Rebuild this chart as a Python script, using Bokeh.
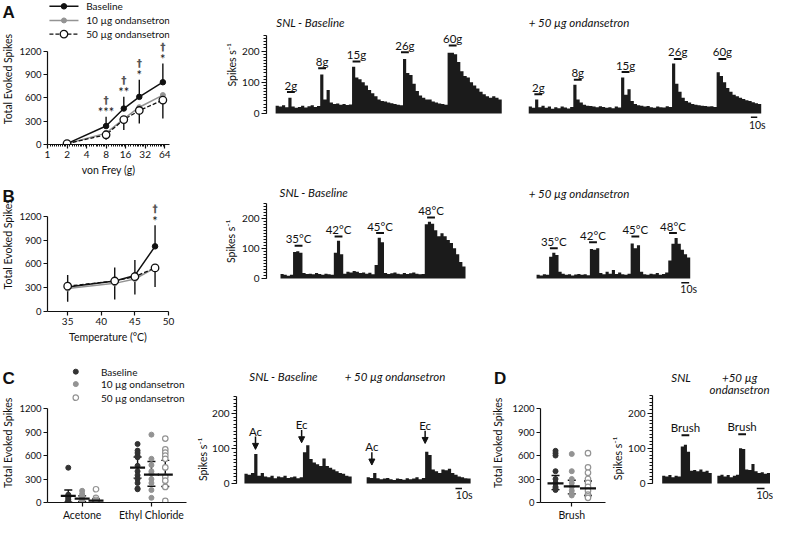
import math
from bokeh.plotting import figure
from bokeh.layouts import row, column
from bokeh.models import (Range1d, FixedTicker, Arrow, NormalHead, Whisker, TeeHead,
                          ColumnDataSource, NumeralTickFormatter)
from bokeh.core.properties import value
from bokeh.embed import file_html
from bokeh.resources import INLINE

FONT = "Lato"
INK = "#111111"
GREY = "#939393"
DOT = "#333333"
SX = 773 / 789
SY = 523 / 539

# ---------------- A: von Frey ----------------
vf_force = [2, 8, 15, 26, 60]
vf_base = [12, 237, 462, 612, 800]
vf_base_sem = [6, 120, 150, 221, 241]
vf_10 = [10, 146, 330, 479, 635]
vf_50 = [12, 125, 320, 437, 571]
vf_50_sem = [6, 63, 133, 166, 238]
vf_star = ["", "***", "**", "*", "*"]
vf_dagger = ["", "†", "†", "†", "†"]
vf_ticks = [1, 2, 4, 8, 16, 32, 64]

# ---------------- B: heat ----------------
temp = [35, 42, 45, 48]
heat_base = [310, 385, 455, 822]
heat_base_sem = [150, 170, 195, 265]
heat_10 = [290, 355, 410, 550]
heat_50 = [320, 385, 440, 550]
heat_50_sem = [197, 233, 227, 242]
heat_star = ["", "", "", "*"]
heat_dagger = ["", "", "", "†"]
temp_ticks = [35, 40, 45, 50]

# ---------------- C: cold (points per animal) ----------------
cold_cats = ["Acetone", "Ethyl Chloride"]
groups = ["Baseline", "10 µg ondansetron", "50 µg ondansetron"]
ac_base = [446, 100, 80, 60, 40, 20, 10, 5, 0, 0]
ac_10 = [150, 110, 80, 55, 40, 20, 10, 0]
ac_50 = [170, 60, 35, 20, 10, 5, 0]
ec_base = [750, 665, 635, 600, 580, 470, 400, 350, 300, 250, 180, 170]
ec_10 = [870, 560, 480, 400, 370, 300, 250, 160, 60]
ec_50 = [820, 680, 640, 600, 560, 450, 330, 280, 200, 20]
ac_mean = [84, 50, 25]
ac_lo = [5, 15, 5]
ac_hi = [160, 85, 45]
ec_mean = [446, 358, 358]
ec_lo = [312, 209, 205]
ec_hi = [584, 525, 540]

# ---------------- D: brush ----------------
br_base = [660, 630, 600, 400, 300, 250, 200, 180, 160]
br_10 = [620, 400, 300, 250, 200, 150, 110, 90]
br_50 = [630, 450, 380, 300, 250, 200, 150, 100, 80, 60]
br_mean = [245, 205, 180]
br_lo = [165, 110, 90]
br_hi = [345, 285, 275]

# ---------------- traces (spikes/s per bin) ----------------
A_bin = 5
A_snl = [25, 22, 26, 20, 50, 22, 18, 21, 25, 19, 23, 26, 21, 24,
         125, 45, 75, 35, 30, 32, 28, 30, 27, 29,
         150, 115, 110, 100, 90, 75, 65, 55, 45, 40, 38, 35, 33, 30, 28, 26,
         175, 130, 123, 95, 72, 58, 50, 45, 45, 38, 35, 32, 30, 28,
         195, 195, 190, 165, 135, 120, 115, 100, 90, 80, 70, 62, 55, 50, 55, 50, 45]
A_ond = [22, 18, 45, 20, 25, 18, 22, 15, 20, 17, 22, 19, 16, 21,
         92, 45, 35, 28, 25, 24, 22, 20, 23, 21, 18, 20, 17, 22, 19,
         115, 60, 78, 40, 30, 26, 25, 22, 24, 20, 18, 22, 20, 19, 23, 21,
         160, 95, 70, 50, 40, 35, 30, 28, 26, 25, 24, 22, 23, 21,
         132, 120, 100, 82, 70, 60, 55, 50, 46, 42, 40, 36, 33, 30]
A_lab = ["2g", "8g", "15g", "26g", "60g"]
A_snl_t = [24, 73, 127, 203, 278]
A_snl_lvl = [69, 145, 167, 196, 218]
A_ond_t = [15, 77, 152, 234, 304]
A_ond_lvl = [62, 108, 133, 175, 175]

B_bin = 4
B_snl = [15, 12, 9, 12,
         88, 90, 85,
         18, 15, 16, 14, 18, 15, 12, 16, 14, 12,
         85, 125, 80,
         16, 22, 20, 25, 22, 18, 20, 16, 19, 14,
         45, 135, 120,
         18, 15, 17, 20, 16, 14, 18, 15, 17, 20, 16, 14, 15,
         180, 188, 182, 160, 140, 150, 140, 128, 118, 100, 80, 55, 40]
B_ond = [12, 10, 14, 12,
         72, 85, 78,
         22, 16, 12, 14, 10, 13, 15, 12, 14, 11,
         98, 95, 100,
         18, 14, 22, 16, 28, 15, 20, 14, 12, 16,
         116, 100, 110,
         22, 14, 12, 16, 14, 18, 12, 15, 20,
         60, 115, 134, 115, 95, 80, 70]
B_lab = ["35°C", "42°C", "45°C", "48°C"]
B_snl_t = [23, 74, 127, 192]
B_snl_lvl = [109, 139, 151, 202]
B_ond_t = [22, 72, 126, 174]
B_ond_lvl = [100, 120, 139, 151]

C_bin = 5
C_snl = [28, 25, 30, 85,
         22, 30, 20, 18, 22, 15, 20, 18, 22, 16, 18, 20, 15, 18,
         90, 110, 70, 60, 55, 50, 72, 50, 45, 40, 35, 30, 28, 22, 20]
C_ond = [18, 16, 30,
         15, 12, 14, 16, 12, 10, 14, 13, 11, 15, 12, 14, 18, 12, 16,
         91, 82, 40, 35, 30, 40, 38, 42, 30, 25, 20, 18, 15, 14]
C_lab = ["Ac", "Ec"]
C_snl_t = [17, 88]
C_snl_lvl = [98, 117]
C_ond_t = [8, 90]
C_ond_lvl = [53, 115]

D_bin = 4
D_snl = [22, 20, 24, 18, 22, 20, 105, 110, 90, 36, 38, 35, 40, 33, 36, 30]
D_ond = [22, 25, 20, 24, 18, 22, 25, 100, 98, 40, 38, 55, 35, 30, 32, 28, 30]
D_lab = ["Brush"]
D_snl_t = [30]
D_snl_lvl = [137]
D_ond_t = [32]
D_ond_lvl = [140]

Y_LABEL = "Total Evoked Spikes"
RATE_LABEL = "Spikes s⁻¹"


# ---------------- helpers ----------------
def base_fig(x0, x1, y0, y1, xr, yr, bl=0, br=0, bt=0, bb=0, x_axis=False, y_axis=False,
             x_type="linear"):
    W = round(x1 * SX) - round(x0 * SX)
    H = round(y1 * SY) - round(y0 * SY)
    p = figure(width=W, height=H, x_range=Range1d(*xr), y_range=Range1d(*yr),
               x_axis_type=x_type, x_axis_location=("below" if x_axis else None),
               y_axis_location=("left" if y_axis else None),
               toolbar_location=None, output_backend="svg", title=None,
               min_border_left=bl, min_border_right=br, min_border_top=bt, min_border_bottom=bb)
    p.outline_line_color = None
    p.grid.visible = False
    p.background_fill_color = "white"
    p.border_fill_color = "white"
    return p


def put_text(p, xs, ys, labels, size="11px", style="normal", align="center", baseline="middle",
             angle=0.0, font=FONT, color=INK):
    p.text(x=xs, y=ys, text=labels, text_font=value(font), text_font_size=size,
           text_font_style=style, text_align=align, text_baseline=baseline, angle=angle,
           text_color=color)


def gutter(x0, x1, y0, y1):
    # plain canvas whose data units are the reference pixels (y grows downwards)
    return base_fig(x0, x1, y0, y1, (x0, x1), (y1, y0))


def style_axis(ax, tick_size="10px"):
    ax.axis_line_width = 1.2
    ax.axis_line_color = INK
    ax.major_tick_line_width = 1.2
    ax.major_tick_line_color = INK
    ax.major_tick_out = 4
    ax.major_tick_in = 0
    ax.minor_tick_out = 2
    ax.minor_tick_in = 0
    ax.minor_tick_line_width = 1
    ax.minor_tick_line_color = INK
    ax.major_label_text_font = FONT
    ax.major_label_text_font_size = tick_size
    ax.major_label_text_color = INK
    ax.major_label_standoff = 2
    ax.axis_label_text_font = FONT
    ax.axis_label_text_font_size = "10.5px"
    ax.axis_label_text_font_style = "normal"
    ax.axis_label_text_color = INK
    ax.axis_label_standoff = 3


class CF:
    """Count panel: frame from fl..fr (ref px), zero line at zero_y, 1200 at y1200."""

    def __init__(self, x0, x1, y0, y1, fl, fr, zero_y, y1200, xorg, xpx, xbounds, log=False):
        self.fl, self.xorg, self.xpx, self.log, self.zero_y = fl, xorg, xpx, log, zero_y
        self.pxu = (zero_y - y1200) / 1200
        xr = (self.X(fl), self.X(fr))
        yr = (0, (zero_y - y0) / self.pxu)
        bl = round(fl * SX) - round(x0 * SX)
        br = round(x1 * SX) - round(fr * SX)
        bb = round(y1 * SY) - round(zero_y * SY)
        self.p = base_fig(x0, x1, y0, y1, xr, yr, bl, br, 0, bb, True, True,
                          "log" if log else "linear")
        ya = self.p.yaxis[0]
        ya.ticker = FixedTicker(ticks=[0, 300, 600, 900, 1200], minor_ticks=[])
        ya.bounds = (0, 1200)
        style_axis(ya, "9.5px")
        xa = self.p.xaxis[0]
        style_axis(xa)
        xa.bounds = xbounds

    def X(self, px):
        if self.log:
            return self.xorg * 2 ** ((px - self.fl) / self.xpx)
        return self.xorg + (px - self.fl) / self.xpx

    def Y(self, py):
        return (self.zero_y - py) / self.pxu

    def text_px(self, px, py, s, **kw):
        put_text(self.p, [self.X(px)], [self.Y(py)], [s], **kw)


class TF:
    """Trace panel: y axis at fl, zero line at zero_y, 200 spikes/s at y200."""

    def __init__(self, x0, x1, y0, y1, fl, fr, pxs, zero_y, y200):
        self.fl, self.pxs, self.zero_y = fl, pxs, zero_y
        self.pxu = (zero_y - y200) / 200
        xr = (0, (fr - fl) / pxs)
        yr = ((zero_y - y1) / self.pxu, (zero_y - y0) / self.pxu)
        bl = round(fl * SX) - round(x0 * SX)
        br = round(x1 * SX) - round(fr * SX)
        self.p = base_fig(x0, x1, y0, y1, xr, yr, bl, br, 0, 0, False, True)
        ya = self.p.yaxis[0]
        ya.ticker = FixedTicker(ticks=[0, 100, 200], minor_ticks=list(range(0, 251, 10)))
        ya.bounds = (0, 250)
        style_axis(ya)
        ya.major_tick_out = 5
        ya.minor_tick_out = 3

    def X(self, px):
        return (px - self.fl) / self.pxs

    def Y(self, py):
        return (self.zero_y - py) / self.pxu

    def text_px(self, px, py, s, **kw):
        put_text(self.p, [self.X(px)], [self.Y(py)], [s], **kw)

    def trace(self, start_px, binw, vals):
        t0 = self.X(start_px)
        xs = [t0 + i * binw for i in range(len(vals) + 1)]
        ys = list(vals) + [vals[-1]]
        self.p.varea_step(x=xs, y1=[0] * len(xs), y2=ys, step_mode="after", fill_color="#1b1b1b")
        return t0

    def stim_bars(self, t0, labels, times, levels):
        hb = 4 / self.pxs
        xs = [t0 + t for t in times]
        self.p.segment(x0=[x - hb for x in xs], y0=levels, x1=[x + hb for x in xs], y1=levels,
                       line_width=2, line_color=INK)
        put_text(self.p, xs, [l + 9 / self.pxu for l in levels], labels, size="11.5px")

    def stim_arrows(self, t0, labels, times, levels):
        xs = [t0 + t for t in times]
        for x, l in zip(xs, levels):
            self.p.add_layout(Arrow(x_start=x, y_start=l + 15 / self.pxu, x_end=x, y_end=l,
                                    line_width=1.5, line_color=INK,
                                    end=NormalHead(size=6, fill_color=INK, line_color=INK)))
        put_text(self.p, xs, [l + 21.5 / self.pxu for l in levels], labels, size="11.5px")

    def scale_bar(self, bar_px, bar_py, txt_px, txt_py):
        x0 = self.X(bar_px)
        y = self.Y(bar_py)
        self.p.segment(x0=[x0], y0=[y], x1=[x0 + 10], y1=[y], line_width=1.5, line_color=INK)
        self.text_px(txt_px, txt_py, "10s", size="10.5px")

    def title(self, text, px, py, align="left"):
        self.text_px(px, py, text, style="italic", align=align, size="11.5px")


def gutter_text(g, px, py, s, **kw):
    put_text(g, [px], [py], [s], **kw)


def letter(g, s, px, py_base):
    put_text(g, [px], [py_base], [s], size="17px", style="bold", align="left",
             baseline="alphabetic", font="Liberation Sans")


def line_panel(cf, xs, base, base_sem, m10, m50, m50_sem, stars, daggers):
    p, pxu = cf.p, cf.pxu
    up = [m + s for m, s in zip(base, base_sem)]
    lo = [m - s for m, s in zip(m50, m50_sem)]
    p.segment(x0=xs, y0=base, x1=xs, y1=up, line_width=1.4, line_color=INK)
    p.segment(x0=xs, y0=m50, x1=xs, y1=lo, line_width=1.4, line_color=INK)
    p.line(xs, m10, line_color=GREY, line_width=1.5)
    p.scatter(xs, m10, size=5, fill_color=GREY, line_color=GREY)
    p.line(xs, base, line_color=INK, line_width=1.5)
    p.scatter(xs, base, size=5.5, fill_color=INK, line_color=INK)
    p.line(xs, m50, line_color=INK, line_width=1.3, line_dash="4 2")
    p.scatter(xs, m50, size=7.5, fill_color="white", line_color=INK, line_width=1.3)
    sx = [x for x, s in zip(xs, stars) if s]
    st = [t for t, s in zip(up, stars) if s]
    put_text(p, sx, [t + 4.5 / pxu for t in st], [s for s in stars if s], size="13px")
    put_text(p, sx, [t + 17.5 / pxu for t in st], [d for d in daggers if d], size="10.5px",
             style="bold", font="DejaVu Sans", color="#555555", angle=0.002)


def dot_panel(p, centers, offsets, point_sets, means, los, his, dash_size):
    styles = [dict(fill_color=DOT, line_color=DOT, size=5),
              dict(fill_color=GREY, line_color=GREY, size=5),
              dict(fill_color="white", line_color=GREY, line_width=1.2, size=5.5)]
    for g in range(3):
        xs, ys = [], []
        for c, cx in enumerate(centers):
            pts = point_sets[c][g]
            xs += [cx + offsets[g]] * len(pts)
            ys += list(pts)
        p.scatter(xs, ys, **styles[g])
    mx, my, ml, mh = [], [], [], []
    for c, cx in enumerate(centers):
        for g in range(3):
            mx.append(cx + offsets[g])
            my.append(means[c][g])
            ml.append(los[c][g])
            mh.append(his[c][g])
    src = ColumnDataSource(dict(x=mx, lo=ml, hi=mh))
    p.add_layout(Whisker(base="x", lower="lo", upper="hi", source=src, line_width=1.4,
                         line_color=INK,
                         upper_head=TeeHead(size=8, line_width=1.4, line_color=INK),
                         lower_head=TeeHead(size=8, line_width=1.4, line_color=INK)))
    p.scatter(mx, my, marker="dash", size=dash_size, line_width=2.2, line_color=INK)
    return styles


# ================= Row 1 =================
GA = gutter(0, 16, 0, 187)
letter(GA, "A", 2, 15)
gutter_text(GA, 7.5, 102, Y_LABEL, size="10.5px", angle=math.pi / 2)

A = CF(16, 176, 0, 187, 46, 172, 148, 52, 1, 20.17, (1, 2 ** (126 / 20.17)), log=True)
xa = A.p.xaxis[0]
vf_minor = [m * (1 + k / 10) for m in vf_ticks[:-1] for k in range(1, 10)]
xa.ticker = FixedTicker(ticks=vf_ticks, minor_ticks=vf_minor)
xa.formatter = NumeralTickFormatter(format="0")
xa.axis_label = "von Frey (g)"
line_panel(A, vf_force, vf_base, vf_base_sem, vf_10, vf_50, vf_50_sem, vf_star, vf_dagger)
# legend (drawn in the panel)
leg_rows = [6, 20.5, 34.5]
leg_line = [dict(line_color=INK, line_width=1.5), dict(line_color=GREY, line_width=1.5),
            dict(line_color=INK, line_width=1.3, line_dash="4 2")]
leg_mark = [dict(size=5.5, fill_color=INK, line_color=INK),
            dict(size=5, fill_color=GREY, line_color=GREY),
            dict(size=7.5, fill_color="white", line_color=INK, line_width=1.3)]
for i in range(3):
    yy = A.Y(leg_rows[i])
    A.p.line([A.X(48), A.X(78)], [yy, yy], **leg_line[i])
    A.p.scatter([A.X(63)], [yy], **leg_mark[i])
    A.text_px(86, leg_rows[i], groups[i], size="10px", align="left")

G1 = gutter(176, 243, 0, 187)
gutter_text(G1, 236.7, 83.5, RATE_LABEL, size="10.5px", angle=math.pi / 2)

TA = TF(243, 789, 0, 187, 271.7, 785, 0.65, 146.7, 65.7)
t1 = TA.trace(281, A_bin, A_snl)
t2 = TA.trace(539.3, A_bin, A_ond)
TA.stim_bars(t1, A_lab, A_snl_t, A_snl_lvl)
TA.stim_bars(t2, A_lab, A_ond_t, A_ond_lvl)
TA.title("SNL - Baseline", 281.7, 28)
TA.title("+ 50 µg ondansetron", 539.3, 29)
TA.scale_bar(766, 151.7, 772.5, 161.7)

# ================= Row 2 =================
GB = gutter(0, 16, 187, 363)
letter(GB, "B", 2, 206.7)
gutter_text(GB, 7.5, 272, Y_LABEL, size="10.5px", angle=math.pi / 2)

B = CF(16, 180, 187, 363, 46, 171, 320, 222.7, 32, 125 / 18, (32, 50))
B.p.xaxis[0].ticker = FixedTicker(ticks=temp_ticks, minor_ticks=[])
B.p.xaxis[0].axis_label = "Temperature (°C)"
line_panel(B, temp, heat_base, heat_base_sem, heat_10, heat_50, heat_50_sem,
           heat_star, heat_dagger)

G2 = gutter(180, 243, 187, 363)
gutter_text(G2, 235.7, 268, RATE_LABEL, size="10.5px", angle=math.pi / 2)

TB = TF(243, 789, 187, 363, 271.7, 785, 0.8, 318.3, 236.7)
t1 = TB.trace(286, B_bin, B_snl)
t2 = TB.trace(547.3, B_bin, B_ond)
TB.stim_bars(t1, B_lab, B_snl_t, B_snl_lvl)
TB.stim_bars(t2, B_lab, B_ond_t, B_ond_lvl)
TB.title("SNL - Baseline", 285, 201.7)
TB.title("+ 50 µg ondansetron", 539.3, 202.7)
TB.scale_bar(695, 324, 702.5, 332.7)

# ================= Row 3 =================
GC = gutter(0, 16, 363, 539)
letter(GC, "C", 2, 393.3)
gutter_text(GC, 7.5, 469, Y_LABEL, size="10.5px", angle=math.pi / 2)

C = CF(16, 213, 363, 539, 47, 213, 517.3, 421, 0.5, 71, (0.5, 2.5))
C.p.xaxis[0].ticker = FixedTicker(ticks=[1, 2], minor_ticks=[])
C.p.xaxis[0].major_label_overrides = {1: cold_cats[0], 2: cold_cats[1]}
C.p.xaxis[0].major_label_text_font_size = "10.5px"
cst = dot_panel(C.p, [1, 2], [-0.2, 0, 0.2],
                [[ac_base, ac_10, ac_50], [ec_base, ec_10, ec_50]],
                [ac_mean, ec_mean], [ac_lo, ec_lo], [ac_hi, ec_hi], 15)
leg_rows_c = [382.7, 395.5, 409.5]
for i in range(3):
    C.p.scatter([C.X(76)], [C.Y(leg_rows_c[i])], **cst[i])
    C.text_px(101.7, leg_rows_c[i], groups[i], size="10px", align="left")
C.text_px(206.5, 473, RATE_LABEL, size="10.5px", angle=math.pi / 2)

TC = TF(213, 520, 363, 539, 238.5, 520, 0.67, 516.7, 435)
t1 = TC.trace(246.7, C_bin, C_snl)
t2 = TC.trace(372.7, C_bin, C_ond)
TC.stim_arrows(t1, C_lab, C_snl_t, C_snl_lvl)
TC.stim_arrows(t2, C_lab, C_ond_t, C_ond_lvl)
TC.title("SNL - Baseline", 251.7, 391.7)
TC.title("+ 50 µg ondansetron", 350, 391.7)
TC.scale_bar(464.3, 522.7, 473.3, 530.7)
put_text(TC.p, [TC.X(504)], [TC.Y(393.3)], ["D"], size="17px", style="bold", align="left",
         baseline="alphabetic", font="Liberation Sans")
TC.text_px(508.3, 469, Y_LABEL, size="10.5px", angle=math.pi / 2)

D = CF(520, 638, 363, 539, 549, 638, 517.3, 420.7, 0.615, 85, (0.615, 1.412))
D.p.xaxis[0].ticker = FixedTicker(ticks=[1], minor_ticks=[])
D.p.xaxis[0].major_label_overrides = {1: "Brush"}
D.p.xaxis[0].major_label_text_font_size = "10.5px"
dot_panel(D.p, [1], [-0.2, 0, 0.2], [[br_base, br_10, br_50]], [br_mean], [br_lo], [br_hi], 16)
D.text_px(630, 472, RATE_LABEL, size="10.5px", angle=math.pi / 2)

TD = TF(638, 789, 363, 539, 664, 789, 0.8, 516.7, 434)
t1 = TD.trace(674, D_bin, D_snl)
t2 = TD.trace(731, D_bin, D_ond)
TD.stim_bars(t1, D_lab, D_snl_t, D_snl_lvl)
TD.stim_bars(t2, D_lab, D_ond_t, D_ond_lvl)
TD.title("SNL", 693.5, 392.7, align="center")
TD.title("+50 µg", 754, 392, align="center")
TD.title("ondansetron", 754, 406, align="center")
TD.scale_bar(771.7, 522.7, 780, 530.7)

layout = column(row(GA, A.p, G1, TA.p), row(GB, B.p, G2, TB.p), row(GC, C.p, TC.p, D.p, TD.p))
open("out.html", "w").write(file_html(layout, INLINE))
